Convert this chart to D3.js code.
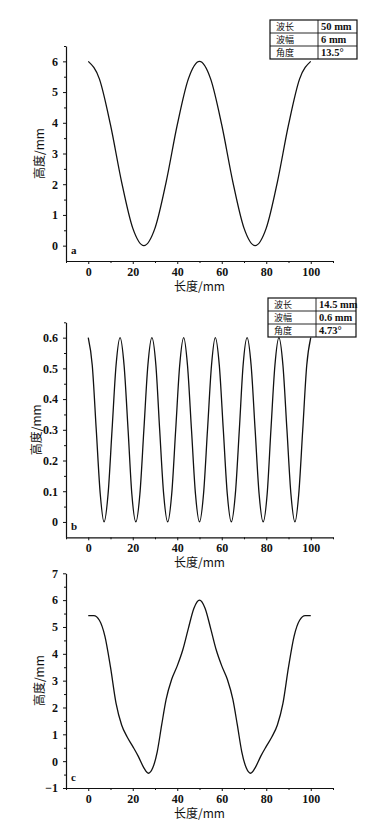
<!DOCTYPE html>
<html>
<head>
<meta charset="utf-8">
<script src="https://cdn.jsdelivr.net/npm/d3@7"></script>
<style>
body { margin:0; background:#fff; }
text { fill:#111; }
</style>
</head>
<body>
<script>
// panel a: wavelength 50, amplitude 6
var lengthA = [0,5,10,15,20,25,30,35,40,45,50,55,60,65,70,75,80,85,90,95,100];
var heightA = [6.00,5.43,3.93,2.07,0.57,0.00,0.57,2.07,3.93,5.43,6.00,5.43,3.93,2.07,0.57,0.00,0.57,2.07,3.93,5.43,6.00];

// panel b: 7 waves over 0..100
var lengthB = [0,1.8,3.6,5.4,7.1,8.9,10.7,12.5,14.3,16.1,17.9,19.6,21.4,23.2,25.0,26.8,28.6,30.4,32.1,33.9,35.7,37.5,39.3,41.1,42.9,44.6,46.4,48.2,50.0,51.8,53.6,55.4,57.1,58.9,60.7,62.5,64.3,66.1,67.9,69.6,71.4,73.2,75.0,76.8,78.6,80.4,82.1,83.9,85.7,87.5,89.3,91.1,92.9,94.6,96.4,98.2,100];
var heightB = [0.6,0.51,0.3,0.09,0,0.09,0.3,0.51,0.6,0.51,0.3,0.09,0,0.09,0.3,0.51,0.6,0.51,0.3,0.09,0,0.09,0.3,0.51,0.6,0.51,0.3,0.09,0,0.09,0.3,0.51,0.6,0.51,0.3,0.09,0,0.09,0.3,0.51,0.6,0.51,0.3,0.09,0,0.09,0.3,0.51,0.6,0.51,0.3,0.09,0,0.09,0.3,0.51,0.6];

// panel c: composite profile
var lengthC = [0,2.5,5,7.5,10,12.5,15,17.5,20,22.5,25,27,29,31,33,35,37.5,40,42.5,45,47.5,50,52.5,55,57.5,60,62.5,65,67,69,71,73,75,77.5,80,82.5,85,87.5,90,92.5,95,97.5,100];
var heightC = [5.42,5.42,5.25,4.65,3.5,2.15,1.35,0.9,0.55,0.18,-0.25,-0.45,-0.25,0.35,1.35,2.3,3.05,3.55,4.15,4.95,5.7,6.0,5.7,4.95,4.15,3.55,3.05,2.3,1.35,0.35,-0.25,-0.45,-0.25,0.18,0.55,0.9,1.35,2.15,3.5,4.65,5.25,5.42,5.42];

var xMajor = [0,20,40,60,80,100];
var xMinor = [-10,10,30,50,70,90,110];

var tableA = [["波长","50 mm"],["波幅","6 mm"],["角度","13.5°"]];
var tableB = [["波长","14.5 mm"],["波幅","0.6 mm"],["角度","4.73°"]];

var panels = [
  {xs:lengthA, ys:heightA, dom:[-0.5,6.5], rng:[261,46], major:[0,1,2,3,4,5,6], minor:[0.5,1.5,2.5,3.5,4.5,5.5,6.5],
   fmt:d3.format("d"), tag:"a", table:tableA, tbl:[270,20,87,318], ytx:38},
  {xs:lengthB, ys:heightB, dom:[-0.05,0.65], rng:[537.3,322.3], major:[0,0.1,0.2,0.3,0.4,0.5,0.6], minor:[0.05,0.15,0.25,0.35,0.45,0.55,0.65],
   fmt:function(d){return d===0?"0":d3.format(".1f")(d);}, tag:"b", table:tableB, tbl:[268,298,88,316], ytx:35},
  {xs:lengthC, ys:heightC, dom:[-1,7], rng:[788,573.3], major:[-1,0,1,2,3,4,5,6,7], minor:[-0.5,0.5,1.5,2.5,3.5,4.5,5.5,6.5],
   fmt:d3.format("d"), tag:"c", table:null, ytx:38}
];

var svg = d3.select('body').append('svg')
  .attr('width',378).attr('height',825)
  .style('background','#fff');

var x = d3.scaleLinear().domain([-10,110]).range([66,333]);
var serif = "'Liberation Serif','DejaVu Serif',serif";
var cjk = "'Noto Sans CJK SC',sans-serif";

panels.forEach(function(p){
  var y = d3.scaleLinear().domain(p.dom).range(p.rng);
  var g = svg.append('g');
  var yb = p.rng[0];

  // minor ticks
  g.append('g').attr('transform','translate(0,'+yb+')')
    .call(d3.axisBottom(x).tickValues(xMinor).tickSize(2).tickFormat(''))
    .call(function(s){ s.select('.domain').remove(); });
  g.append('g').attr('transform','translate('+x(-10)+',0)')
    .call(d3.axisLeft(y).tickValues(p.minor).tickSize(2).tickFormat(''))
    .call(function(s){ s.select('.domain').remove(); });

  // major axes
  var ax = g.append('g').attr('transform','translate(0,'+yb+')')
    .call(d3.axisBottom(x).tickValues(xMajor).tickSize(3).tickSizeOuter(0).tickPadding(3));
  var ay = g.append('g').attr('transform','translate('+x(-10)+',0)')
    .call(d3.axisLeft(y).tickValues(p.major).tickSize(3).tickSizeOuter(0).tickPadding(5).tickFormat(p.fmt));

  [ax,ay].forEach(function(a){
    a.attr('font-family',serif).attr('font-size',12).attr('font-weight','bold');
    a.selectAll('text').attr('fill','#111');
    a.select('.domain').attr('stroke','#111').attr('stroke-width',1.2);
  });
  g.selectAll('.tick line').attr('stroke','#111').attr('stroke-width',1);

  // curve
  var line = d3.line().x(function(d,i){return x(p.xs[i]);}).y(function(d){return y(d);}).curve(d3.curveMonotoneX);
  g.append('path').attr('d',line(p.ys)).attr('fill','none').attr('stroke','#111').attr('stroke-width',1.3);

  // axis titles
  g.append('text').attr('x',x(50)).attr('y',yb+30).attr('text-anchor','middle')
    .style('font-family',cjk).style('font-size','12px').text('长度/mm');
  var cy = (p.rng[0]+p.rng[1])/2;
  g.append('text').attr('transform','translate('+p.ytx+','+cy+') rotate(-90)')
    .attr('text-anchor','middle').attr('dominant-baseline','central')
    .style('font-family',cjk).style('font-size','12px').text('高度/mm');

  // panel tag
  g.append('text').attr('x',71).attr('y',yb-7).style('font-family',serif)
    .style('font-size','11px').style('font-weight','bold').text(p.tag);

  // info table
  if (p.table) {
    var t = p.tbl, rh = 13;
    var tg = svg.append('g');
    tg.append('rect').attr('x',t[0]).attr('y',t[1]).attr('width',t[2]).attr('height',rh*3)
      .attr('fill','#fff').attr('stroke','#111').attr('stroke-width',1.2);
    tg.append('line').attr('x1',t[3]).attr('x2',t[3]).attr('y1',t[1]).attr('y2',t[1]+rh*3).attr('stroke','#111').attr('stroke-width',0.9);
    [1,2].forEach(function(k){
      tg.append('line').attr('x1',t[0]).attr('x2',t[0]+t[2]).attr('y1',t[1]+rh*k).attr('y2',t[1]+rh*k).attr('stroke','#111').attr('stroke-width',0.9);
    });
    p.table.forEach(function(r,k){
      tg.append('text').attr('x',t[0]+6).attr('y',t[1]+rh*k+10).style('font-family',cjk).style('font-size','9px').text(r[0]);
      tg.append('text').attr('x',t[3]+3).attr('y',t[1]+rh*k+10).style('font-family',serif).style('font-size','10.5px').style('font-weight','bold').text(r[1]);
    });
  }
});
</script>
</body>
</html>
